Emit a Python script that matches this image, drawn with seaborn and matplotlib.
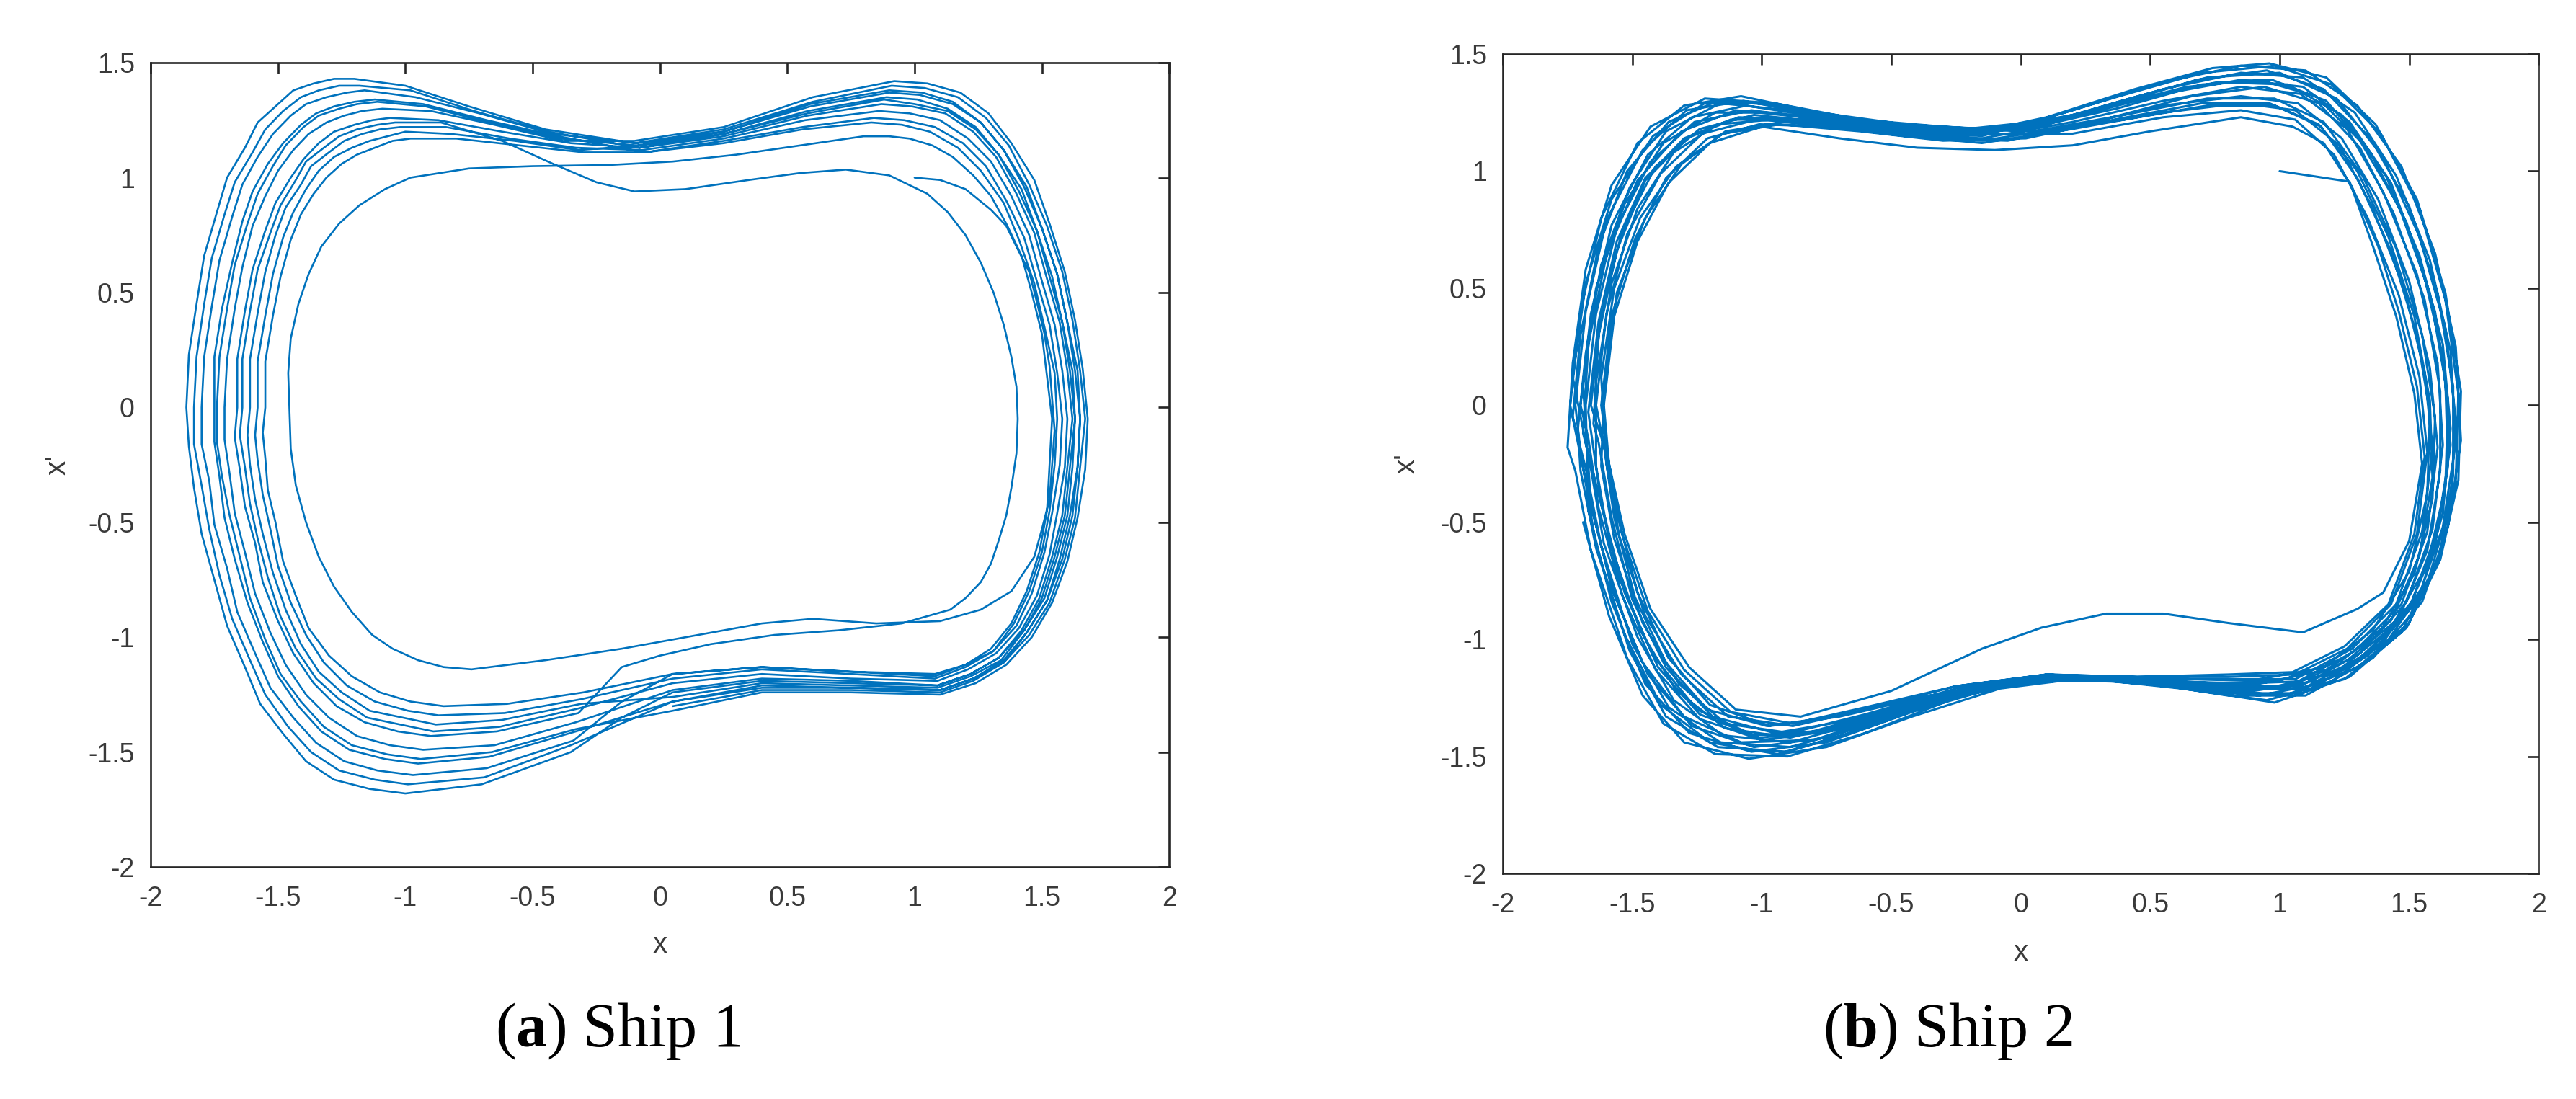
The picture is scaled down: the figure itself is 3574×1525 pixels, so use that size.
import matplotlib
matplotlib.use("Agg")
import matplotlib.pyplot as plt
import seaborn as sns
import pandas as pd

# phase portraits (x, x'), lap by lap (clockwise), each lap starting bottom middle
ship1_start = [
    (1.00, 1.00), (1.10, 0.99), (1.20, 0.95), (1.30, 0.86), (1.36, 0.79), (1.40, 0.70), (1.45, 0.59),
    (1.48, 0.46), (1.51, 0.32), (1.53, 0.18), (1.55, -0.10), (1.53, -0.40), (1.50, -0.53), (1.47, -0.65),
    (1.38, -0.80), (1.26, -0.88), (1.10, -0.93), (0.85, -0.94), (0.60, -0.92), (0.40, -0.94), (0.15, -0.99),
    (-0.15, -1.05), (-0.45, -1.10), (-0.74, -1.14), (-0.85, -1.13), (-0.95, -1.10), (-1.05, -1.05),
    (-1.13, -0.99), (-1.21, -0.89), (-1.28, -0.78), (-1.34, -0.65), (-1.39, -0.50), (-1.43, -0.34),
    (-1.45, -0.18), (-1.46, 0.15), (-1.45, 0.30), (-1.42, 0.45), (-1.38, 0.58), (-1.33, 0.70), (-1.26, 0.80),
    (-1.18, 0.88), (-1.08, 0.95), (-0.98, 1.00), (-0.75, 1.04), (-0.50, 1.05), (-0.20, 1.055), (0.05, 1.07),
    (0.30, 1.10), (0.55, 1.14), (0.80, 1.18), (0.90, 1.18), (0.98, 1.17), (1.07, 1.14), (1.15, 1.09),
    (1.23, 1.01), (1.30, 0.92), (1.36, 0.80), (1.42, 0.66), (1.46, 0.50), (1.50, 0.32), (1.54, -0.05),
    (1.52, -0.45), (1.49, -0.63), (1.44, -0.80), (1.38, -0.94), (1.30, -1.05), (1.20, -1.12), (1.08, -1.16),
    (0.75, -1.15), (0.40, -1.13), (0.05, -1.16),
]

ship1_laps = [
    [(-0.30, -1.24), (-0.60, -1.29), (-0.85, -1.30), (-0.98, -1.28), (-1.10, -1.24), (-1.21, -1.17),
     (-1.30, -1.08), (-1.38, -0.96), (-1.43, -0.82), (-1.48, -0.67), (-1.51, -0.50), (-1.54, -0.36),
     (-1.55, -0.22), (-1.56, -0.11), (-1.55, 0.00), (-1.55, 0.20), (-1.52, 0.40), (-1.49, 0.57), (-1.45, 0.73),
     (-1.41, 0.84), (-1.36, 0.93), (-1.31, 1.00), (-1.25, 1.06), (-1.19, 1.10), (-1.12, 1.13), (-1.05, 1.16),
     (-0.98, 1.17), (-0.80, 1.17), (-0.55, 1.14), (-0.30, 1.11), (-0.06, 1.11), (0.25, 1.16), (0.56, 1.22),
     (0.84, 1.26), (0.96, 1.25), (1.08, 1.22), (1.19, 1.15), (1.28, 1.05), (1.36, 0.90), (1.43, 0.74),
     (1.48, 0.55), (1.53, 0.36), (1.56, 0.15), (1.58, -0.05), (1.57, -0.25), (1.54, -0.46), (1.51, -0.63),
     (1.46, -0.81), (1.40, -0.95), (1.31, -1.06), (1.20, -1.13), (1.08, -1.18), (0.75, -1.16), (0.40, -1.14),
     (0.05, -1.18)],
    [(-0.31, -1.27), (-0.61, -1.33), (-0.87, -1.34), (-0.99, -1.32), (-1.12, -1.28), (-1.23, -1.21),
     (-1.32, -1.11), (-1.39, -0.99), (-1.45, -0.85), (-1.50, -0.69), (-1.53, -0.53), (-1.56, -0.38),
     (-1.58, -0.23), (-1.59, -0.12), (-1.58, 0.00), (-1.58, 0.20), (-1.55, 0.40), (-1.52, 0.58), (-1.48, 0.74),
     (-1.44, 0.85), (-1.39, 0.95), (-1.34, 1.03), (-1.28, 1.09), (-1.21, 1.13), (-1.14, 1.16), (-1.07, 1.18),
     (-1.00, 1.20), (-0.82, 1.19), (-0.57, 1.16), (-0.32, 1.12), (-0.08, 1.14), (0.25, 1.19), (0.58, 1.29),
     (0.89, 1.35), (1.01, 1.34), (1.13, 1.30), (1.24, 1.22), (1.33, 1.10), (1.42, 0.95), (1.48, 0.77),
     (1.54, 0.57), (1.58, 0.37), (1.62, 0.16), (1.63, -0.05), (1.62, -0.26), (1.60, -0.47), (1.56, -0.65),
     (1.51, -0.83), (1.43, -0.97), (1.34, -1.10), (1.22, -1.17), (1.09, -1.22), (0.75, -1.21), (0.40, -1.20),
     (0.05, -1.26)],
    [(-0.31, -1.29), (-0.62, -1.36), (-0.88, -1.38), (-1.01, -1.35), (-1.14, -1.32), (-1.25, -1.24),
     (-1.34, -1.15), (-1.41, -1.03), (-1.47, -0.88), (-1.52, -0.72), (-1.56, -0.55), (-1.59, -0.40),
     (-1.61, -0.25), (-1.62, -0.12), (-1.61, 0.00), (-1.61, 0.21), (-1.58, 0.41), (-1.55, 0.59), (-1.51, 0.75),
     (-1.47, 0.87), (-1.41, 0.97), (-1.37, 1.05), (-1.30, 1.11), (-1.24, 1.16), (-1.17, 1.19), (-1.10, 1.21),
     (-1.02, 1.22), (-0.84, 1.22), (-0.59, 1.17), (-0.33, 1.13), (-0.07, 1.12), (0.25, 1.17), (0.57, 1.25),
     (0.86, 1.29), (0.98, 1.28), (1.10, 1.25), (1.21, 1.17), (1.30, 1.07), (1.38, 0.92), (1.45, 0.75),
     (1.50, 0.55), (1.55, 0.36), (1.58, 0.16), (1.60, -0.05), (1.59, -0.26), (1.56, -0.46), (1.53, -0.64),
     (1.48, -0.82), (1.41, -0.96), (1.32, -1.07), (1.21, -1.14), (1.09, -1.19), (0.75, -1.18), (0.40, -1.16),
     (0.05, -1.20)],
    [(-0.32, -1.31), (-0.63, -1.39), (-0.89, -1.41), (-1.02, -1.38), (-1.15, -1.35), (-1.26, -1.27),
     (-1.35, -1.18), (-1.43, -1.05), (-1.49, -0.91), (-1.54, -0.74), (-1.58, -0.57), (-1.61, -0.42),
     (-1.63, -0.26), (-1.65, -0.12), (-1.64, 0.00), (-1.64, 0.21), (-1.61, 0.42), (-1.58, 0.60), (-1.53, 0.76),
     (-1.49, 0.88), (-1.43, 0.99), (-1.39, 1.07), (-1.32, 1.13), (-1.26, 1.18), (-1.19, 1.21), (-1.11, 1.23),
     (-1.04, 1.24), (-0.86, 1.24), (-0.62, 1.16), (-0.42, 1.06), (-0.25, 0.98), (-0.10, 0.94), (0.10, 0.95),
     (0.35, 0.99), (0.55, 1.02), (0.73, 1.035), (0.90, 1.01), (1.05, 0.93), (1.13, 0.85), (1.20, 0.75),
     (1.26, 0.63), (1.31, 0.50), (1.35, 0.36), (1.38, 0.22), (1.40, 0.09), (1.405, -0.05), (1.40, -0.20),
     (1.38, -0.35), (1.36, -0.47), (1.33, -0.58), (1.30, -0.68), (1.26, -0.76), (1.20, -0.83), (1.14, -0.88),
     (0.95, -0.94), (0.70, -0.97), (0.45, -0.99), (0.20, -1.03), (0.00, -1.08), (-0.15, -1.13)],
    [(-0.32, -1.33), (-0.64, -1.41), (-0.90, -1.43), (-1.03, -1.41), (-1.16, -1.37), (-1.27, -1.30),
     (-1.36, -1.20), (-1.44, -1.07), (-1.50, -0.93), (-1.56, -0.76), (-1.59, -0.59), (-1.63, -0.43),
     (-1.65, -0.27), (-1.67, -0.13), (-1.66, 0.00), (-1.66, 0.21), (-1.63, 0.42), (-1.60, 0.60), (-1.55, 0.77),
     (-1.51, 0.89), (-1.45, 1.00), (-1.40, 1.08), (-1.34, 1.15), (-1.28, 1.20), (-1.20, 1.23), (-1.13, 1.25),
     (-1.06, 1.26), (-0.87, 1.25), (-0.62, 1.20), (-0.35, 1.15), (-0.08, 1.13), (0.25, 1.18), (0.58, 1.27),
     (0.87, 1.32), (0.99, 1.31), (1.12, 1.28), (1.23, 1.20), (1.32, 1.09), (1.40, 0.93), (1.47, 0.76),
     (1.52, 0.56), (1.57, 0.37), (1.60, 0.16), (1.62, -0.05), (1.60, -0.26), (1.58, -0.47), (1.54, -0.65),
     (1.49, -0.83), (1.42, -0.97), (1.33, -1.09), (1.22, -1.16), (1.09, -1.21), (0.75, -1.19), (0.40, -1.18),
     (0.05, -1.23)],
    [(-0.33, -1.37), (-0.65, -1.47), (-0.93, -1.49), (-1.06, -1.47), (-1.19, -1.43), (-1.30, -1.35),
     (-1.39, -1.25), (-1.47, -1.12), (-1.53, -0.98), (-1.59, -0.81), (-1.63, -0.63), (-1.67, -0.46),
     (-1.69, -0.29), (-1.71, -0.14), (-1.71, 0.00), (-1.70, 0.21), (-1.67, 0.43), (-1.64, 0.61), (-1.60, 0.79),
     (-1.55, 0.92), (-1.50, 1.03), (-1.44, 1.12), (-1.38, 1.19), (-1.31, 1.24), (-1.24, 1.27), (-1.17, 1.29),
     (-1.09, 1.30), (-0.90, 1.29), (-0.65, 1.23), (-0.38, 1.16), (-0.10, 1.16), (0.25, 1.22), (0.60, 1.35),
     (0.92, 1.42), (1.05, 1.41), (1.18, 1.37), (1.29, 1.28), (1.38, 1.15), (1.47, 0.99), (1.53, 0.80),
     (1.59, 0.59), (1.63, 0.38), (1.66, 0.17), (1.68, -0.05), (1.67, -0.27), (1.64, -0.48), (1.60, -0.67),
     (1.54, -0.85), (1.46, -1.00), (1.36, -1.12), (1.24, -1.20), (1.10, -1.25), (0.75, -1.24), (0.40, -1.24),
     (0.05, -1.32)],
    [(-0.33, -1.40), (-0.66, -1.50), (-0.94, -1.53), (-1.07, -1.51), (-1.21, -1.47), (-1.32, -1.39),
     (-1.41, -1.28), (-1.49, -1.16), (-1.55, -1.01), (-1.61, -0.83), (-1.65, -0.65), (-1.69, -0.47),
     (-1.72, -0.30), (-1.74, -0.15), (-1.74, 0.00), (-1.73, 0.22), (-1.70, 0.43), (-1.67, 0.62), (-1.62, 0.80),
     (-1.58, 0.93), (-1.52, 1.05), (-1.47, 1.14), (-1.40, 1.22), (-1.34, 1.27), (-1.26, 1.30), (-1.19, 1.32),
     (-1.11, 1.33), (-0.92, 1.31), (-0.67, 1.24), (-0.39, 1.17), (-0.09, 1.14), (0.25, 1.20), (0.59, 1.31),
     (0.90, 1.37), (1.02, 1.36), (1.15, 1.32), (1.26, 1.24), (1.35, 1.12), (1.43, 0.96), (1.50, 0.78),
     (1.56, 0.58), (1.60, 0.37), (1.63, 0.16), (1.65, -0.05), (1.64, -0.26), (1.61, -0.47), (1.57, -0.66),
     (1.52, -0.84), (1.44, -0.98), (1.35, -1.10), (1.23, -1.18), (1.10, -1.23), (0.75, -1.22), (0.40, -1.21),
     (0.05, -1.28)],
    [(-0.33, -1.41), (-0.67, -1.52), (-0.95, -1.55), (-1.08, -1.53), (-1.22, -1.49), (-1.33, -1.41),
     (-1.42, -1.30), (-1.50, -1.17), (-1.56, -1.02), (-1.62, -0.85), (-1.67, -0.66), (-1.71, -0.48),
     (-1.73, -0.30), (-1.75, -0.15), (-1.75, 0.00), (-1.75, 0.22), (-1.72, 0.43), (-1.68, 0.63), (-1.64, 0.81),
     (-1.60, 0.94), (-1.54, 1.06), (-1.48, 1.15), (-1.41, 1.23), (-1.35, 1.28), (-1.28, 1.31), (-1.20, 1.33),
     (-1.12, 1.34), (-0.93, 1.32), (-0.68, 1.25), (-0.40, 1.18), (-0.06, 1.11), (0.25, 1.15), (0.56, 1.21),
     (0.83, 1.24), (0.95, 1.23), (1.06, 1.20), (1.17, 1.13), (1.26, 1.03), (1.35, 0.89), (1.41, 0.73),
     (1.47, 0.54), (1.51, 0.35), (1.55, 0.15), (1.56, -0.05), (1.55, -0.25), (1.53, -0.45), (1.50, -0.63),
     (1.45, -0.80), (1.39, -0.94), (1.31, -1.06), (1.20, -1.12), (1.08, -1.17), (0.75, -1.15), (0.40, -1.13),
     (0.05, -1.16), (-0.15, -1.28)],
    [(-0.34, -1.45), (-0.68, -1.57), (-0.97, -1.60), (-1.11, -1.58), (-1.24, -1.54), (-1.35, -1.46),
     (-1.44, -1.35), (-1.53, -1.22), (-1.59, -1.07), (-1.66, -0.89), (-1.70, -0.70), (-1.75, -0.51),
     (-1.77, -0.32), (-1.80, -0.16), (-1.80, 0.00), (-1.79, 0.22), (-1.76, 0.44), (-1.73, 0.64), (-1.68, 0.83),
     (-1.64, 0.97), (-1.58, 1.09), (-1.52, 1.19), (-1.45, 1.27), (-1.39, 1.32), (-1.31, 1.35), (-1.23, 1.37),
     (-1.16, 1.38), (-0.96, 1.35), (-0.71, 1.28), (-0.42, 1.19), (-0.09, 1.15), (0.25, 1.20), (0.59, 1.32),
     (0.90, 1.38), (1.03, 1.37), (1.15, 1.33), (1.26, 1.24), (1.35, 1.12), (1.44, 0.96), (1.50, 0.78),
     (1.56, 0.58), (1.60, 0.37), (1.64, 0.16), (1.65, -0.05), (1.64, -0.26), (1.62, -0.47), (1.58, -0.66),
     (1.52, -0.84), (1.44, -0.98), (1.35, -1.11), (1.23, -1.18), (1.10, -1.23), (0.75, -1.22), (0.40, -1.22),
     (0.05, -1.28)],
    [(-0.35, -1.47), (-0.69, -1.61), (-0.99, -1.64), (-1.12, -1.62), (-1.26, -1.58), (-1.37, -1.50),
     (-1.46, -1.39), (-1.55, -1.25), (-1.61, -1.10), (-1.68, -0.92), (-1.73, -0.73), (-1.77, -0.53),
     (-1.80, -0.34), (-1.83, -0.16), (-1.83, 0.00), (-1.82, 0.22), (-1.79, 0.45), (-1.76, 0.65), (-1.71, 0.84),
     (-1.67, 0.98), (-1.60, 1.11), (-1.55, 1.21), (-1.48, 1.29), (-1.41, 1.35), (-1.34, 1.38), (-1.26, 1.40),
     (-1.18, 1.40), (-0.98, 1.38), (-0.73, 1.29), (-0.44, 1.20), (-0.08, 1.13), (0.25, 1.19), (0.58, 1.28),
     (0.88, 1.34), (1.00, 1.32), (1.13, 1.29), (1.24, 1.21), (1.33, 1.10), (1.41, 0.94), (1.48, 0.77),
     (1.53, 0.57), (1.58, 0.37), (1.61, 0.16), (1.63, -0.05), (1.61, -0.26), (1.59, -0.47), (1.55, -0.65),
     (1.50, -0.83), (1.43, -0.97), (1.33, -1.09), (1.22, -1.16), (1.09, -1.21), (0.75, -1.20), (0.40, -1.19),
     (0.05, -1.24), (-0.15, -1.35)],
    [(-0.35, -1.50), (-0.70, -1.64), (-1.00, -1.68), (-1.14, -1.66), (-1.28, -1.62), (-1.39, -1.54),
     (-1.48, -1.42), (-1.57, -1.29), (-1.63, -1.13), (-1.70, -0.95), (-1.75, -0.75), (-1.80, -0.55),
     (-1.83, -0.35), (-1.85, -0.17), (-1.86, 0.00), (-1.85, 0.23), (-1.82, 0.45), (-1.79, 0.66), (-1.74, 0.85),
     (-1.70, 1.00), (-1.63, 1.13), (-1.58, 1.24), (-1.50, 1.32), (-1.44, 1.38), (-1.36, 1.41), (-1.28, 1.43),
     (-1.20, 1.43), (-1.00, 1.40), (-0.75, 1.31), (-0.45, 1.21), (-0.10, 1.15), (0.25, 1.21), (0.60, 1.33),
     (0.91, 1.40), (1.04, 1.39), (1.17, 1.35), (1.28, 1.26), (1.37, 1.14), (1.45, 0.97), (1.52, 0.79),
     (1.58, 0.59), (1.62, 0.38), (1.65, 0.16), (1.67, -0.05), (1.65, -0.26), (1.63, -0.48), (1.59, -0.66),
     (1.53, -0.85), (1.45, -0.99), (1.35, -1.11), (1.23, -1.19), (1.10, -1.24), (0.75, -1.23), (0.40, -1.23),
     (0.05, -1.30)],
]

ship2_start = [
    (1.00, 1.00), (1.27, 0.955), (1.36, 0.68), (1.45, 0.38), (1.52, 0.05), (1.55, -0.25), (1.50, -0.58),
    (1.40, -0.80), (1.30, -0.87), (1.09, -0.97), (0.80, -0.93), (0.55, -0.89), (0.33, -0.89), (0.08, -0.95),
    (-0.15, -1.04), (-0.50, -1.22), (-0.85, -1.33), (-1.10, -1.30), (-1.28, -1.12), (-1.43, -0.87),
    (-1.53, -0.55), (-1.59, -0.25), (-1.61, 0.00), (-1.57, 0.38), (-1.48, 0.70), (-1.36, 0.95), (-1.20, 1.12),
    (-1.00, 1.19), (-0.70, 1.14), (-0.40, 1.10), (-0.10, 1.09), (0.20, 1.11), (0.50, 1.17), (0.85, 1.23),
    (1.05, 1.19), (1.17, 1.12), (1.28, 0.93), (1.38, 0.68), (1.46, 0.40), (1.53, 0.08), (1.56, -0.22),
    (1.52, -0.55), (1.42, -0.85), (1.25, -1.03), (1.05, -1.14), (0.80, -1.15), (0.45, -1.16), (0.10, -1.15),
    (-0.25, -1.20), (-0.60, -1.29), (-0.88, -1.36), (-1.12, -1.31), (-1.30, -1.13), (-1.44, -0.88),
    (-1.54, -0.55), (-1.59, -0.25),
]

ship2_laps = [
    [(-1.62, 0.00), (-1.58, 0.38), (-1.49, 0.71), (-1.37, 0.97), (-1.21, 1.14), (-1.01, 1.20), (-0.75, 1.19),
     (-0.45, 1.15), (-0.15, 1.12), (0.20, 1.18), (0.55, 1.25), (0.85, 1.29), (1.06, 1.26), (1.23, 1.11),
     (1.36, 0.84), (1.48, 0.50), (1.56, 0.14), (1.59, -0.19), (1.55, -0.54), (1.45, -0.85), (1.28, -1.04),
     (1.06, -1.17), (0.80, -1.17), (0.45, -1.17), (0.10, -1.15), (-0.25, -1.20), (-0.60, -1.30), (-0.88, -1.37),
     (-1.13, -1.33), (-1.31, -1.15), (-1.45, -0.90), (-1.55, -0.56), (-1.60, -0.25)],
    [(-1.62, 0.12), (-1.57, 0.50), (-1.47, 0.80), (-1.33, 1.02), (-1.15, 1.16), (-0.93, 1.20), (-0.62, 1.17),
     (-0.30, 1.13), (0.02, 1.14), (0.36, 1.22), (0.70, 1.29), (0.96, 1.29), (1.15, 1.20), (1.30, 1.00),
     (1.42, 0.72), (1.52, 0.38), (1.58, 0.02), (1.59, -0.31), (1.54, -0.64), (1.43, -0.92), (1.24, -1.09),
     (0.99, -1.18), (0.65, -1.17), (0.30, -1.16), (-0.05, -1.18), (-0.40, -1.25), (-0.72, -1.33), (-0.98, -1.37),
     (-1.21, -1.30), (-1.37, -1.10), (-1.49, -0.82), (-1.57, -0.48), (-1.61, -0.17)],
    [(-1.64, 0.00), (-1.60, 0.39), (-1.52, 0.73), (-1.39, 0.99), (-1.23, 1.16), (-1.02, 1.22), (-0.76, 1.20),
     (-0.45, 1.16), (-0.15, 1.13), (0.20, 1.19), (0.55, 1.28), (0.85, 1.32), (1.07, 1.29), (1.24, 1.14),
     (1.38, 0.88), (1.50, 0.53), (1.58, 0.16), (1.61, -0.18), (1.57, -0.54), (1.47, -0.85), (1.29, -1.05),
     (1.07, -1.18), (0.80, -1.19), (0.45, -1.17), (0.10, -1.15), (-0.25, -1.21), (-0.60, -1.32), (-0.89, -1.40),
     (-1.14, -1.36), (-1.32, -1.19), (-1.46, -0.93), (-1.57, -0.57), (-1.62, -0.26)],
    [(-1.61, 0.05), (-1.56, 0.48), (-1.45, 0.80), (-1.31, 1.03), (-1.14, 1.17), (-0.92, 1.21), (-0.64, 1.18),
     (-0.36, 1.14), (-0.05, 1.13), (0.32, 1.22), (0.66, 1.32), (0.94, 1.36), (1.15, 1.29), (1.31, 1.10),
     (1.44, 0.82), (1.56, 0.45), (1.62, 0.06), (1.62, -0.28), (1.57, -0.62), (1.46, -0.91), (1.26, -1.09),
     (1.02, -1.21), (0.70, -1.19), (0.35, -1.17), (0.00, -1.17), (-0.35, -1.24), (-0.70, -1.33), (-0.97, -1.37),
     (-1.20, -1.28), (-1.36, -1.08), (-1.48, -0.80), (-1.56, -0.46), (-1.61, -0.17)],
    [(-1.66, 0.00), (-1.62, 0.39), (-1.54, 0.74), (-1.41, 1.02), (-1.24, 1.18), (-1.03, 1.24), (-0.76, 1.21),
     (-0.45, 1.16), (-0.15, 1.14), (0.20, 1.21), (0.55, 1.30), (0.85, 1.36), (1.08, 1.33), (1.26, 1.18),
     (1.40, 0.91), (1.53, 0.56), (1.61, 0.18), (1.63, -0.17), (1.59, -0.53), (1.49, -0.84), (1.31, -1.06),
     (1.08, -1.20), (0.80, -1.20), (0.45, -1.17), (0.10, -1.16), (-0.25, -1.22), (-0.60, -1.33), (-0.89, -1.42),
     (-1.14, -1.38), (-1.33, -1.22), (-1.47, -0.96), (-1.59, -0.58), (-1.64, -0.26)],
    [(-1.64, 0.10), (-1.58, 0.52), (-1.48, 0.84), (-1.34, 1.08), (-1.17, 1.20), (-0.96, 1.22), (-0.66, 1.19),
     (-0.35, 1.15), (-0.02, 1.16), (0.35, 1.28), (0.68, 1.39), (0.95, 1.43), (1.17, 1.35), (1.35, 1.14),
     (1.50, 0.85), (1.61, 0.48), (1.67, 0.08), (1.67, -0.30), (1.62, -0.64), (1.50, -0.93), (1.30, -1.12),
     (1.02, -1.24), (0.70, -1.21), (0.35, -1.18), (0.00, -1.17), (-0.35, -1.25), (-0.68, -1.35), (-0.95, -1.40),
     (-1.19, -1.33), (-1.37, -1.12), (-1.50, -0.83), (-1.58, -0.48), (-1.63, -0.16)],
    [(-1.65, -0.08), (-1.63, 0.30), (-1.56, 0.66), (-1.45, 0.96), (-1.29, 1.14), (-1.09, 1.23), (-0.84, 1.22),
     (-0.54, 1.17), (-0.24, 1.15), (0.10, 1.23), (0.44, 1.35), (0.74, 1.44), (0.96, 1.46), (1.18, 1.40),
     (1.37, 1.20), (1.53, 0.88), (1.64, 0.48), (1.70, 0.06), (1.69, -0.32), (1.62, -0.66), (1.49, -0.95),
     (1.27, -1.16), (0.98, -1.27), (0.64, -1.21), (0.30, -1.17), (-0.06, -1.19), (-0.42, -1.28), (-0.74, -1.39),
     (-1.01, -1.42), (-1.24, -1.32), (-1.40, -1.12), (-1.53, -0.80), (-1.62, -0.42)],
    [(-1.67, -0.03), (-1.63, 0.36), (-1.56, 0.70), (-1.45, 0.97), (-1.30, 1.14), (-1.12, 1.22), (-0.88, 1.22),
     (-0.58, 1.17), (-0.28, 1.14), (0.08, 1.20), (0.42, 1.31), (0.72, 1.40), (1.00, 1.42), (1.22, 1.31),
     (1.40, 1.06), (1.54, 0.72), (1.64, 0.33), (1.68, -0.06), (1.66, -0.42), (1.57, -0.76), (1.42, -1.00),
     (1.20, -1.18), (0.92, -1.24), (0.60, -1.20), (0.26, -1.16), (-0.10, -1.19), (-0.45, -1.28), (-0.76, -1.39),
     (-1.03, -1.41), (-1.25, -1.30), (-1.42, -1.07), (-1.55, -0.74), (-1.63, -0.38)],
    [(-1.69, -0.12), (-1.67, 0.26), (-1.60, 0.64), (-1.48, 0.96), (-1.31, 1.17), (-1.10, 1.26), (-0.84, 1.23),
     (-0.52, 1.18), (-0.22, 1.16), (0.12, 1.21), (0.46, 1.31), (0.76, 1.38), (1.03, 1.37), (1.24, 1.24),
     (1.41, 0.98), (1.54, 0.64), (1.63, 0.26), (1.66, -0.10), (1.63, -0.46), (1.55, -0.78), (1.40, -1.01),
     (1.18, -1.17), (0.90, -1.22), (0.56, -1.19), (0.22, -1.16), (-0.14, -1.21), (-0.50, -1.32), (-0.80, -1.43),
     (-1.08, -1.44), (-1.30, -1.33), (-1.46, -1.10), (-1.58, -0.78), (-1.66, -0.42)],
    [(-1.69, 0.08), (-1.64, 0.50), (-1.53, 0.86), (-1.38, 1.12), (-1.18, 1.25), (-0.95, 1.25), (-0.62, 1.20),
     (-0.32, 1.16), (0.02, 1.18), (0.38, 1.27), (0.70, 1.37), (0.97, 1.39), (1.18, 1.30), (1.35, 1.08),
     (1.49, 0.78), (1.60, 0.40), (1.65, 0.02), (1.64, -0.35), (1.57, -0.68), (1.43, -0.95), (1.22, -1.14),
     (0.95, -1.21), (0.62, -1.19), (0.28, -1.17), (-0.05, -1.19), (-0.40, -1.29), (-0.72, -1.39), (-1.00, -1.43),
     (-1.24, -1.34), (-1.41, -1.13), (-1.54, -0.81), (-1.63, -0.44), (-1.67, -0.14)],
    [(-1.70, 0.00), (-1.66, 0.39), (-1.58, 0.77), (-1.44, 1.07), (-1.27, 1.23), (-1.06, 1.28), (-0.77, 1.23),
     (-0.45, 1.18), (-0.15, 1.16), (0.20, 1.16), (0.55, 1.23), (0.85, 1.26), (1.06, 1.22), (1.21, 1.07),
     (1.34, 0.80), (1.46, 0.47), (1.54, 0.12), (1.57, -0.20), (1.53, -0.55), (1.43, -0.85), (1.26, -1.04),
     (1.06, -1.15), (0.80, -1.16), (0.45, -1.16), (0.10, -1.15), (-0.25, -1.24), (-0.60, -1.37), (-0.89, -1.46),
     (-1.16, -1.44), (-1.36, -1.29), (-1.50, -1.02), (-1.62, -0.60), (-1.68, -0.27)],
    [(-1.73, -0.05), (-1.70, 0.30), (-1.63, 0.68), (-1.52, 1.00), (-1.36, 1.21), (-1.17, 1.30), (-0.92, 1.28),
     (-0.60, 1.21), (-0.30, 1.18), (0.05, 1.17), (0.40, 1.24), (0.72, 1.31), (0.98, 1.31), (1.17, 1.21),
     (1.32, 0.98), (1.45, 0.67), (1.55, 0.30), (1.60, -0.05), (1.59, -0.40), (1.52, -0.72), (1.38, -0.98),
     (1.18, -1.13), (0.92, -1.19), (0.60, -1.18), (0.28, -1.16), (-0.08, -1.20), (-0.42, -1.31), (-0.75, -1.44),
     (-1.04, -1.48), (-1.28, -1.40), (-1.45, -1.19), (-1.58, -0.84), (-1.67, -0.45)],
    [(-1.68, 0.00), (-1.64, 0.39), (-1.56, 0.76), (-1.43, 1.04), (-1.26, 1.21), (-1.04, 1.26), (-0.77, 1.22),
     (-0.45, 1.17), (-0.15, 1.15), (0.20, 1.26), (0.55, 1.38), (0.85, 1.45), (1.10, 1.43), (1.30, 1.28),
     (1.47, 1.02), (1.60, 0.65), (1.68, 0.25), (1.70, -0.15), (1.65, -0.52), (1.55, -0.84), (1.36, -1.08),
     (1.10, -1.24), (0.80, -1.24), (0.45, -1.18), (0.10, -1.16), (-0.25, -1.23), (-0.60, -1.35), (-0.89, -1.44),
     (-1.15, -1.41), (-1.34, -1.26), (-1.48, -0.99), (-1.61, -0.59), (-1.66, -0.27)],
    [(-1.73, 0.12), (-1.68, 0.52), (-1.58, 0.88), (-1.42, 1.15), (-1.22, 1.29), (-0.98, 1.29), (-0.66, 1.22),
     (-0.36, 1.18), (-0.04, 1.18), (0.32, 1.27), (0.64, 1.36), (0.92, 1.39), (1.14, 1.32), (1.31, 1.13),
     (1.46, 0.85), (1.58, 0.48), (1.64, 0.10), (1.65, -0.26), (1.60, -0.60), (1.49, -0.89), (1.30, -1.09),
     (1.05, -1.21), (0.74, -1.21), (0.38, -1.17), (0.04, -1.17), (-0.32, -1.26), (-0.66, -1.40), (-0.94, -1.49),
     (-1.20, -1.44), (-1.39, -1.28), (-1.53, -0.98), (-1.64, -0.60), (-1.70, -0.20)],
    [(-1.72, 0.00), (-1.68, 0.40), (-1.60, 0.79), (-1.46, 1.09), (-1.29, 1.26), (-1.07, 1.30), (-0.78, 1.24),
     (-0.45, 1.19), (-0.15, 1.17), (0.20, 1.24), (0.55, 1.35), (0.85, 1.42), (1.09, 1.40), (1.29, 1.25),
     (1.45, 0.98), (1.58, 0.62), (1.66, 0.23), (1.68, -0.16), (1.63, -0.52), (1.53, -0.84), (1.34, -1.07),
     (1.09, -1.23), (0.80, -1.23), (0.45, -1.18), (0.10, -1.16), (-0.25, -1.24), (-0.60, -1.38), (-0.90, -1.48),
     (-1.17, -1.46), (-1.37, -1.33), (-1.51, -1.05), (-1.64, -0.61), (-1.70, -0.28)],
    [(-1.71, -0.10), (-1.68, 0.22), (-1.62, 0.60), (-1.51, 0.93), (-1.37, 1.17), (-1.16, 1.29), (-0.90, 1.26),
     (-0.60, 1.20), (-0.30, 1.17), (0.05, 1.21), (0.38, 1.32), (0.70, 1.42), (0.98, 1.45), (1.20, 1.37),
     (1.39, 1.16), (1.54, 0.84), (1.64, 0.45), (1.69, 0.05), (1.68, -0.33), (1.61, -0.66), (1.47, -0.97),
     (1.25, -1.17), (0.95, -1.26), (0.62, -1.21), (0.28, -1.17), (-0.08, -1.19), (-0.42, -1.30), (-0.75, -1.42),
     (-1.03, -1.46), (-1.27, -1.37), (-1.44, -1.15), (-1.57, -0.81), (-1.66, -0.43)],
    [(-1.74, 0.00), (-1.70, 0.40), (-1.62, 0.80), (-1.48, 1.12), (-1.30, 1.28), (-1.08, 1.32), (-0.78, 1.25),
     (-0.45, 1.20), (-0.15, 1.18), (0.20, 1.23), (0.55, 1.33), (0.85, 1.39), (1.09, 1.36), (1.27, 1.21),
     (1.43, 0.95), (1.55, 0.59), (1.63, 0.21), (1.66, -0.17), (1.61, -0.53), (1.51, -0.84), (1.33, -1.07),
     (1.09, -1.21), (0.80, -1.21), (0.45, -1.17), (0.10, -1.16), (-0.25, -1.25), (-0.60, -1.40), (-0.90, -1.50),
     (-1.18, -1.49), (-1.38, -1.36), (-1.52, -1.08), (-1.66, -0.62), (-1.72, -0.28)],
    [(-1.75, -0.18), (-1.73, 0.18), (-1.68, 0.58), (-1.58, 0.94), (-1.43, 1.19), (-1.22, 1.31), (-0.95, 1.29),
     (-0.62, 1.22), (-0.30, 1.19), (0.05, 1.17), (0.40, 1.22), (0.72, 1.28), (0.98, 1.28), (1.16, 1.19),
     (1.30, 0.97), (1.43, 0.66), (1.53, 0.30), (1.58, -0.03), (1.57, -0.38), (1.50, -0.71), (1.36, -0.96),
     (1.17, -1.12), (0.92, -1.17), (0.60, -1.17), (0.28, -1.16), (-0.08, -1.21), (-0.42, -1.33), (-0.75, -1.46),
     (-1.05, -1.51), (-1.30, -1.44), (-1.46, -1.24), (-1.59, -0.90), (-1.69, -0.50)],
]

x_ticks = [-2, -1.5, -1, -0.5, 0, 0.5, 1, 1.5, 2]
x_tick_labels = ["-2", "-1.5", "-1", "-0.5", "0", "0.5", "1", "1.5", "2"]
y_ticks = [-2, -1.5, -1, -0.5, 0, 0.5, 1, 1.5]
y_tick_labels = ["-2", "-1.5", "-1", "-0.5", "0", "0.5", "1", "1.5"]
captions = [r"($\mathbf{a}$) Ship 1", r"($\mathbf{b}$) Ship 2"]

line_color = "#0072BD"
axis_color = "#262626"


def trajectory(start, laps):
    pts = list(start)
    for lap in laps:
        pts += lap
    return pd.DataFrame(pts, columns=["x", "xdot"])


sns.set_theme(style="white")
plt.rcParams["font.family"] = ["Liberation Sans", "DejaVu Sans"]
plt.rcParams["axes.unicode_minus"] = False
plt.rcParams["mathtext.fontset"] = "custom"
plt.rcParams["mathtext.rm"] = "Liberation Serif"
plt.rcParams["mathtext.bf"] = "Liberation Serif:bold"

fig = plt.figure(figsize=(35.74, 15.25), dpi=100)
ax1 = fig.add_axes([0.0585, 0.2111, 0.3954, 0.7318])
ax2 = fig.add_axes([0.5834, 0.2052, 0.4021, 0.7456])

panels = [
    (ax1, trajectory(ship1_start, ship1_laps), 1.9, -0.078, 0.240, captions[0]),
    (ax2, trajectory(ship2_start, ship2_laps), 2.2, -0.080, 0.756, captions[1]),
]

for ax, df, lw, ylab_x, cap_x, cap in panels:
    sns.lineplot(data=df, x="x", y="xdot", sort=False, estimator=None,
                 color=line_color, linewidth=lw, ax=ax)
    ax.set_xlim(-2, 2)
    ax.set_ylim(-2, 1.5)
    ax.set_xticks(x_ticks)
    ax.set_xticklabels(x_tick_labels)
    ax.set_yticks(y_ticks)
    ax.set_yticklabels(y_tick_labels)
    ax.tick_params(direction="in", length=10.8, width=1.9, top=True, right=True,
                   labelsize=27, color=axis_color, labelcolor="#3a3a3a")
    ax.tick_params(axis="x", pad=19)
    ax.tick_params(axis="y", pad=16)
    for s in ax.spines.values():
        s.set_linewidth(1.9)
        s.set_color(axis_color)
    ax.set_xlabel("x", fontsize=29, color="#3a3a3a")
    ax.set_ylabel("x'", fontsize=29, color="#3a3a3a")
    ax.xaxis.set_label_coords(0.5, -0.080)
    ax.xaxis.label.set_va("top")
    ax.yaxis.set_label_coords(ylab_x, 0.5)
    fig.text(cap_x, 0.048, cap, ha="center", va="baseline",
             fontsize=62, family="Liberation Serif", color="black")

fig.savefig("out.png", dpi=100)
